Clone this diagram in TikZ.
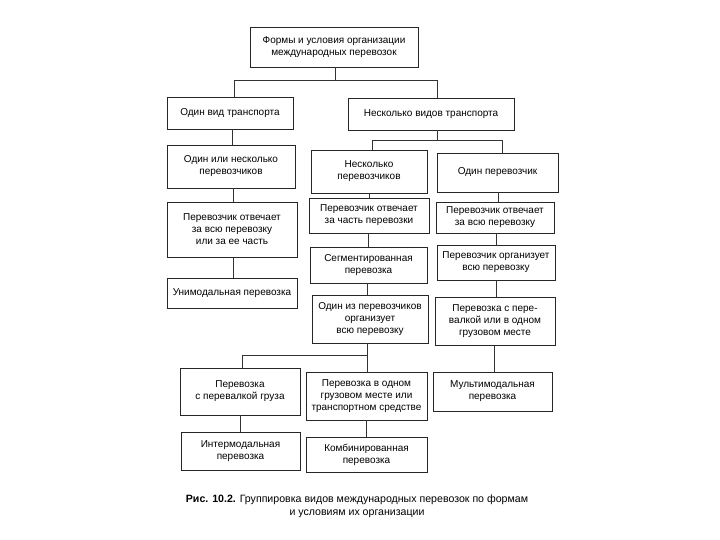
\documentclass[tikz,border=0pt]{standalone}
\usepackage{fontspec}
\setmainfont{Liberation Sans}
\begin{document}
\begin{tikzpicture}[x=1pt,y=-1pt,
  bx/.style={draw=black!85, line width=0.7pt, align=center, inner sep=1pt,
    font=\fontsize{10}{12}\selectfont, text=black},
  ln/.style={draw=black!80, line width=0.6pt}]
\useasboundingbox[fill=white] (0,0) rectangle (720,540);
% boxes
\node[bx, minimum width=168, minimum height=40] (top) at (334,47) {Формы и условия организации\\международных перевозок};
\node[bx, minimum width=126, minimum height=32] (a1) at (230,113) {Один вид транспорта};
\node[bx, minimum width=166, minimum height=32] (a2) at (431,114) {Несколько видов транспорта};
\node[bx, minimum width=128, minimum height=43] (b1) at (231,166.5) {Один или несколько\\перевозчиков};
\node[bx, minimum width=116, minimum height=43] (b2) at (369,171.5) {Несколько\\перевозчиков};
\node[bx, minimum width=121, minimum height=39] (b3) at (497.5,172.5) {Один перевозчик};
\node[bx, minimum width=130, minimum height=55] (c1) at (232,229.5) {Перевозчик отвечает\\за всю перевозку\\или за ее часть};
\node[bx, minimum width=130, minimum height=30] (d1) at (232,293) {Унимодальная перевозка};
\node[bx, minimum width=120, minimum height=35] (c2) at (369,215.5) {Перевозчик отвечает\\за часть перевозки};
\node[bx, minimum width=117, minimum height=36] (d2) at (368.5,265) {Сегментированная\\перевозка};
\node[bx, minimum width=116, minimum height=48] (e2) at (370,319) {Один из перевозчиков\\организует\\всю перевозку};
\node[bx, minimum width=118, minimum height=31] (c3) at (495,217.5) {Перевозчик отвечает\\за всю перевозку};
\node[bx, minimum width=118, minimum height=35] (d3) at (496,262.5) {Перевозчик организует\\всю перевозку};
\node[bx, minimum width=120, minimum height=48] (e3) at (495,321) {Перевозка с пере-\\валкой или в одном\\грузовом месте};
\node[bx, minimum width=120, minimum height=47] (f1) at (240,391.5) {Перевозка\\с перевалкой груза};
\node[bx, minimum width=121, minimum height=48] (f2) at (366.5,396) {Перевозка в одном\\грузовом месте или\\транспортном средстве};
\node[bx, minimum width=119, minimum height=39] (f3) at (492.5,391.5) {Мультимодальная\\перевозка};
\node[bx, minimum width=119, minimum height=38] (g1) at (240.5,451) {Интермодальная\\перевозка};
\node[bx, minimum width=121, minimum height=35] (g2) at (366.5,454.5) {Комбинированная\\перевозка};
% junctions
\coordinate (j1) at (335,80);
\coordinate (j2) at (437,140);
\coordinate (j3) at (367,355);
% connectors
\draw[ln] (top.south -| j1) -- (j1);
\draw[ln] (j1) -| ([xshift=4]a1.north);
\draw[ln] (j1) -| ([xshift=6]a2.north);
\draw[ln] (a2.south -| j2) -- (j2);
\draw[ln] (j2) -| ([xshift=3]b2.north);
\draw[ln] (j2) -| ([xshift=5]b3.north);
\draw[ln] ([xshift=2]a1.south) -- ([xshift=2]a1.south |- b1.north);
\draw[ln] ([xshift=2]b1.south) -- ([xshift=2]b1.south |- c1.north);
\draw[ln] ([xshift=1]c1.south) -- ([xshift=1]c1.south |- d1.north);
\draw[ln] (b2.south) -- (b2.south |- c2.north);
\draw[ln] ([xshift=-1]c2.south) -- ([xshift=-1]c2.south |- d2.north);
\draw[ln] ([xshift=-1.5]d2.south) -- ([xshift=-1.5]d2.south |- e2.north);
\draw[ln] (e2.south -| j3) -- (j3);
\draw[ln] (j3) -| ([xshift=2]f1.north);
\draw[ln] (j3) -- (j3 |- f2.north);
\draw[ln] ([xshift=1]b3.south) -- ([xshift=1]b3.south |- c3.north);
\draw[ln] ([xshift=1]c3.south) -- ([xshift=1]c3.south |- d3.north);
\draw[ln] ([xshift=0]d3.south) -- ([xshift=0]d3.south |- e3.north);
\draw[ln] ([xshift=-1]e3.south) -- ([xshift=-1]e3.south |- f3.north);
\draw[ln] (f1.south) -- (f1.south |- g1.north);
\draw[ln] (f2.south) -- (f2.south |- g2.north);
% caption
\node[font=\fontsize{10.6}{13}\selectfont, align=center] (cap) at (357,506) {\textbf{Рис. 10.2.} Группировка видов международных перевозок по формам\\и условиям их организации};
\end{tikzpicture}
\end{document}
